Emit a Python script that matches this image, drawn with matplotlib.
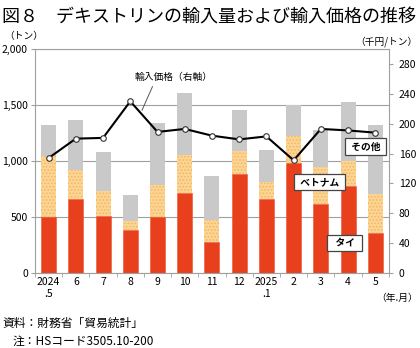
import numpy as np
import matplotlib
matplotlib.use("Agg")
import matplotlib.pyplot as plt
from matplotlib.ticker import FuncFormatter, FixedLocator

plt.rcParams['font.family'] = ['Noto Sans CJK JP', 'DejaVu Sans']
plt.rcParams['hatch.linewidth'] = 0.8

# data
months = ['2024\n.5', '6', '7', '8', '9', '10', '11', '12', '2025\n.1', '2', '3', '4', '5']
thai = [497, 661, 512, 384, 500, 717, 280, 881, 661, 982, 613, 774, 360]
vietnam = [545, 262, 217, 83, 283, 334, 193, 208, 154, 244, 330, 229, 342]
other = [282, 446, 354, 232, 559, 553, 396, 366, 283, 277, 331, 527, 619]
price = [154, 180, 181, 230, 189, 193, 184, 179, 183, 151, 193, 191, 188]

red = '#E8401C'
orange = '#FCD594'
gray = '#C9C9C9'
axcol = '#A0A0A0'

fig = plt.figure(figsize=(4.2, 3.48), dpi=100)
ax = fig.add_axes([0.0833, 0.2155, 0.8427, 0.6435])
x = np.arange(len(months))
w = 0.55

thai = np.array(thai)
vietnam = np.array(vietnam)
other = np.array(other)

ax.bar(x, thai, w, color=red, edgecolor='#F06040', linewidth=0.5, zorder=2)
ax.bar(x, vietnam, w, bottom=thai, facecolor=orange, edgecolor='#F2B860',
       hatch='.....', linewidth=0, zorder=2)
ax.bar(x, other, w, bottom=thai + vietnam, color=gray, linewidth=0, zorder=2)

ax.set_xlim(-0.5, len(months) - 0.5)
ax.set_ylim(0, 2000)
ax.set_yticks([0, 500, 1000, 1500, 2000])
ax.yaxis.set_major_formatter(FuncFormatter(lambda v, p: f'{int(v):,}'))
ax.grid(axis='y', color=axcol, linewidth=0.8, zorder=0)
ax.set_axisbelow(True)
ax.set_xticks(x)
ax.set_xticklabels(months, fontsize=7.5)
ax.xaxis.set_minor_locator(FixedLocator(np.arange(-0.5, len(months), 1)))
ax.tick_params(axis='x', which='major', length=0, pad=3)
ax.tick_params(axis='x', which='minor', length=3, color=axcol, direction='out')
ax.tick_params(axis='y', length=3, color=axcol, labelsize=7.5, pad=2)
for s in ax.spines.values():
    s.set_color(axcol)
    s.set_linewidth(0.8)

ax2 = ax.twinx()
ax2.set_ylim(0, 300)
ax2.set_yticks(np.arange(0, 281, 40))
ax2.tick_params(axis='y', length=3, color=axcol, labelsize=7.5, pad=4)
for s in ax2.spines.values():
    s.set_visible(False)
ax2.plot(x, price, color='black', linewidth=1.5, marker='o', markersize=4,
         markerfacecolor='white', markeredgecolor='#333333', markeredgewidth=0.8,
         zorder=3)

# annotations
ax2.annotate('輸入価格（右軸）', xy=(3.43, 218), xytext=(4.6, 262),
             fontsize=7, ha='center', va='center',
             arrowprops=dict(arrowstyle='-', color='#555555', linewidth=0.7,
                             relpos=(0.25, 0.0), shrinkA=1, shrinkB=0))
box = dict(boxstyle='square,pad=0.35', facecolor='white', edgecolor='#444444',
           linewidth=0.9)
ax.text(11.64, 1129, ' その他 ', fontsize=7, ha='center', va='center', bbox=box,
        fontweight='bold')
ax.text(9.95, 812, ' ベトナム ', fontsize=7, ha='center', va='center', bbox=box,
        fontweight='bold')
ax.text(10.88, 268, '  タイ  ', fontsize=7, ha='center', va='center', bbox=box,
        fontweight='bold')

fig.text(0.005, 0.975, '図８　デキストリンの輸入量および輸入価格の推移',
         fontsize=13, ha='left', va='top')
fig.text(0.01, 0.895, '（トン）', fontsize=7, ha='left', va='center')
fig.text(0.995, 0.88, '（千円/トン）', fontsize=7, ha='right', va='center')
fig.text(0.995, 0.145, '（年.月）', fontsize=7, ha='right', va='center')
fig.text(0.005, 0.07, '資料：財務省「貿易統計」', fontsize=8.5, ha='left', va='center')
fig.text(0.03, 0.02, '注：HSコード3505.10-200', fontsize=8.5, ha='left', va='center')

fig.savefig('out.png', dpi=100)
